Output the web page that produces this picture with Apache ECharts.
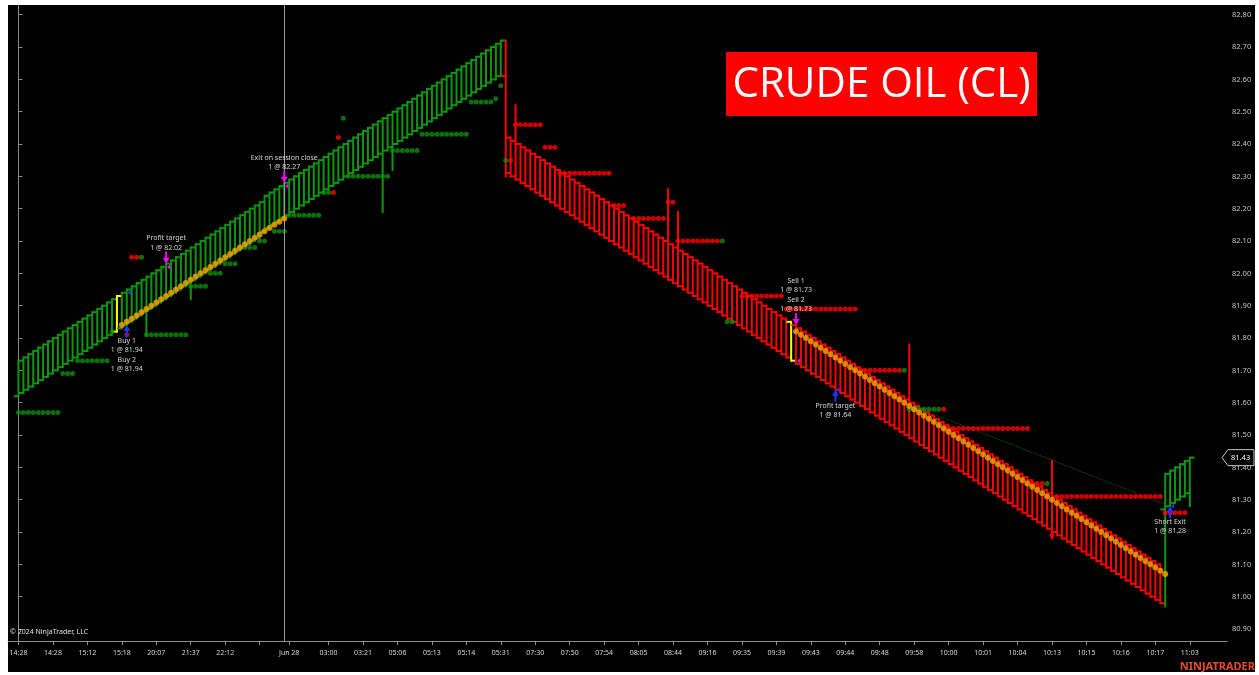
<!DOCTYPE html>
<html>
<head>
<meta charset="utf-8">
<title>CRUDE OIL (CL)</title>
<script src="https://cdn.jsdelivr.net/npm/echarts@6/dist/echarts.min.js"></script>
<style>
  html, body { margin: 0; padding: 0; background: #fff; }
  #frame { position: absolute; left: 8px; top: 5px; width: 1247px; height: 667px; background: #000; }
  #chart { position: absolute; left: 0; top: 0; width: 1259px; height: 675px; }
</style>
</head>
<body>
<div id="frame"></div>
<div id="chart"></div>
<script>
// bar bodies (open / close), one per bar index
const barOpen = [
  81.62, 81.63, 81.64, 81.65, 81.66, 81.67, 81.68, 81.69, 81.70, 81.71,
  81.72, 81.73, 81.74, 81.75, 81.76, 81.77, 81.78, 81.79, 81.80, 81.81,
  81.82, 81.83, 81.84, 81.85, 81.86, 81.87, 81.88, 81.89, 81.90, 81.91,
  81.92, 81.93, 81.94, 81.95, 81.96, 81.97, 81.98, 81.99, 82.00, 82.01,
  82.02, 82.03, 82.04, 82.05, 82.06, 82.07, 82.08, 82.09, 82.10, 82.11,
  82.13, 82.14, 82.15, 82.16, 82.17, 82.18, 82.19, 82.20, 82.21, 82.22,
  82.23, 82.24, 82.25, 82.26, 82.27, 82.28, 82.29, 82.30, 82.31, 82.32,
  82.33, 82.34, 82.35, 82.36, 82.37, 82.38, 82.39, 82.40, 82.41, 82.42,
  82.43, 82.44, 82.45, 82.46, 82.47, 82.48, 82.49, 82.50, 82.51, 82.52,
  82.53, 82.54, 82.55, 82.56, 82.57, 82.58, 82.59, 82.60, 82.61, 82.61,
  82.42, 82.41, 82.40, 82.39, 82.38, 82.37, 82.36, 82.35, 82.34, 82.33,
  82.32, 82.31, 82.30, 82.29, 82.28, 82.27, 82.26, 82.25, 82.24, 82.23,
  82.22, 82.21, 82.20, 82.19, 82.18, 82.17, 82.16, 82.15, 82.14, 82.13,
  82.12, 82.11, 82.10, 82.09, 82.08, 82.07, 82.06, 82.05, 82.04, 82.03,
  82.02, 82.01, 82.00, 81.99, 81.98, 81.97, 81.96, 81.95, 81.94, 81.93,
  81.92, 81.91, 81.90, 81.89, 81.88, 81.87, 81.86, 81.85, 81.84, 81.83,
  81.82, 81.81, 81.80, 81.79, 81.78, 81.77, 81.76, 81.75, 81.74, 81.73,
  81.72, 81.71, 81.70, 81.69, 81.68, 81.67, 81.66, 81.65, 81.64, 81.63,
  81.62, 81.61, 81.60, 81.59, 81.58, 81.57, 81.56, 81.55, 81.54, 81.53,
  81.52, 81.51, 81.50, 81.49, 81.48, 81.47, 81.46, 81.45, 81.44, 81.43,
  81.42, 81.41, 81.40, 81.39, 81.38, 81.37, 81.36, 81.35, 81.34, 81.33,
  81.32, 81.31, 81.30, 81.29, 81.28, 81.27, 81.26, 81.25, 81.24, 81.23,
  81.22, 81.21, 81.20, 81.19, 81.18, 81.17, 81.16, 81.15, 81.14, 81.13,
  81.12, 81.11, 81.10, 81.27, 81.28, 81.29, 81.30, 81.31, 81.32
];
const barClose = [
  81.73, 81.74, 81.75, 81.76, 81.77, 81.78, 81.79, 81.80, 81.81, 81.82,
  81.83, 81.84, 81.85, 81.86, 81.87, 81.88, 81.89, 81.90, 81.91, 81.92,
  81.93, 81.94, 81.95, 81.96, 81.97, 81.98, 81.99, 82.00, 82.01, 82.02,
  82.03, 82.04, 82.05, 82.06, 82.07, 82.08, 82.09, 82.10, 82.11, 82.12,
  82.13, 82.14, 82.15, 82.16, 82.17, 82.18, 82.19, 82.20, 82.21, 82.22,
  82.24, 82.25, 82.26, 82.27, 82.28, 82.29, 82.30, 82.31, 82.32, 82.33,
  82.34, 82.35, 82.36, 82.37, 82.38, 82.39, 82.40, 82.41, 82.42, 82.43,
  82.44, 82.45, 82.46, 82.47, 82.48, 82.49, 82.50, 82.51, 82.52, 82.53,
  82.54, 82.55, 82.56, 82.57, 82.58, 82.59, 82.60, 82.61, 82.62, 82.63,
  82.64, 82.65, 82.66, 82.67, 82.68, 82.69, 82.70, 82.71, 82.72, 82.31,
  82.30, 82.29, 82.28, 82.27, 82.26, 82.25, 82.24, 82.23, 82.22, 82.21,
  82.20, 82.19, 82.18, 82.17, 82.16, 82.15, 82.14, 82.13, 82.12, 82.11,
  82.10, 82.09, 82.08, 82.07, 82.06, 82.05, 82.04, 82.03, 82.02, 82.01,
  82.00, 81.99, 81.98, 81.97, 81.96, 81.95, 81.94, 81.93, 81.92, 81.91,
  81.90, 81.89, 81.88, 81.87, 81.86, 81.85, 81.84, 81.83, 81.82, 81.81,
  81.80, 81.79, 81.78, 81.77, 81.76, 81.75, 81.74, 81.73, 81.72, 81.71,
  81.70, 81.69, 81.68, 81.67, 81.66, 81.65, 81.64, 81.63, 81.62, 81.61,
  81.60, 81.59, 81.58, 81.57, 81.56, 81.55, 81.54, 81.53, 81.52, 81.51,
  81.50, 81.49, 81.48, 81.47, 81.46, 81.45, 81.44, 81.43, 81.42, 81.41,
  81.40, 81.39, 81.38, 81.37, 81.36, 81.35, 81.34, 81.33, 81.32, 81.31,
  81.30, 81.29, 81.28, 81.27, 81.26, 81.25, 81.24, 81.23, 81.22, 81.21,
  81.20, 81.19, 81.18, 81.17, 81.16, 81.15, 81.14, 81.13, 81.12, 81.11,
  81.10, 81.09, 81.08, 81.07, 81.06, 81.05, 81.04, 81.03, 81.02, 81.01,
  81.00, 80.99, 80.98, 81.38, 81.39, 81.40, 81.41, 81.42, 81.43
];
// bars whose shadow reaches past the body: [bar, low, high]
const barWicks = [
  [26, 81.81, 81.99], [35, 81.92, 82.08], [74, 82.19, 82.48], [76, 82.32, 82.50],
  [99, 82.30, 82.72], [101, 82.29, 82.52], [132, 81.98, 82.26], [134, 81.96, 82.19],
  [181, 81.49, 81.78], [210, 81.18, 81.42], [233, 80.97, 81.38], [238, 81.28, 81.43]
];
const highlightBars = [20, 157];

// orange trailing dots
const trailLongStart = 21;
const trailLong = [
  81.84, 81.85, 81.86, 81.87, 81.88, 81.89, 81.90, 81.91, 81.92, 81.93,
  81.94, 81.95, 81.96, 81.97, 81.98, 81.99, 82.00, 82.01, 82.02, 82.03,
  82.04, 82.05, 82.06, 82.07, 82.08, 82.09, 82.10, 82.11, 82.12, 82.13,
  82.14, 82.15, 82.16, 82.17
];
const trailShortStart = 158;
const trailShort = [
  81.82, 81.81, 81.80, 81.79, 81.78, 81.77, 81.76, 81.75, 81.74, 81.73,
  81.72, 81.71, 81.70, 81.69, 81.68, 81.67, 81.66, 81.65, 81.64, 81.63,
  81.62, 81.61, 81.60, 81.59, 81.58, 81.57, 81.56, 81.55, 81.54, 81.53,
  81.52, 81.51, 81.50, 81.49, 81.48, 81.47, 81.46, 81.45, 81.44, 81.43,
  81.42, 81.41, 81.40, 81.39, 81.38, 81.37, 81.36, 81.35, 81.34, 81.33,
  81.32, 81.31, 81.30, 81.29, 81.28, 81.27, 81.26, 81.25, 81.24, 81.23,
  81.22, 81.21, 81.20, 81.19, 81.18, 81.17, 81.16, 81.15, 81.14, 81.13,
  81.12, 81.11, 81.10, 81.09, 81.08, 81.07
];

// dotted levels: [first bar, last bar, price]
const greenDotRuns = [
  [0, 8, 81.57], [9, 11, 81.69], [12, 18, 81.73], [19, 19, 81.82], [25, 25, 82.05],
  [26, 34, 81.81], [35, 38, 81.96], [39, 41, 82.00], [42, 44, 82.03], [45, 48, 82.08],
  [49, 50, 82.10], [52, 54, 82.13], [55, 61, 82.18], [62, 63, 82.25], [66, 66, 82.48],
  [67, 75, 82.30], [76, 81, 82.38], [82, 91, 82.43], [92, 96, 82.53], [97, 97, 82.54],
  [98, 98, 82.58], [99, 99, 82.35], [143, 143, 82.10], [144, 145, 81.85], [180, 180, 81.70],
  [181, 187, 81.58], [209, 209, 81.35]
];
const redDotRuns = [
  [22, 22, 81.81], [23, 24, 82.05], [64, 64, 82.25], [65, 65, 82.42], [100, 100, 82.35],
  [101, 106, 82.46], [107, 109, 82.39], [110, 120, 82.31], [121, 123, 82.21], [125, 131, 82.17],
  [132, 133, 82.22], [134, 142, 82.10], [147, 155, 81.93], [156, 170, 81.89], [171, 179, 81.70],
  [188, 188, 81.58], [189, 205, 81.52], [206, 208, 81.35], [210, 210, 81.19], [211, 232, 81.31],
  [233, 237, 81.26]
];

// executions
const execBars = [22, 30, 54, 158, 166, 234];
const execPrices = [81.94, 82.02, 82.27, 81.73, 81.64, 81.28];
const execSide = ['buy', 'sell', 'sell', 'sell', 'buy', 'buy'];
const execText = [
  'Buy 1\n1 @ 81.94\nBuy 2\n1 @ 81.94',
  'Profit target\n1 @ 82.02',
  'Exit on session close\n1 @ 82.27',
  'Sell 1\n1 @ 81.73\nSell 2\n1 @ 81.73',
  'Profit target\n1 @ 81.64',
  'Short Exit\n1 @ 81.28'
];
// entry -> exit connectors: [bar, price, bar, price]
const tradeLines = [
  [22, 81.94, 30, 82.02], [22, 81.94, 54, 82.27],
  [158, 81.73, 166, 81.64], [158, 81.73, 234, 81.28]
];

// axes
const tickBars = [0, 7, 14, 21, 28, 35, 42, 49, 55, 63, 70, 77, 84, 91, 98, 105, 112, 119,
  126, 133, 140, 147, 154, 161, 168, 175, 182, 189, 196, 203, 210, 217, 224, 231, 238];
const tickLabels = ['14:28', '14:28', '15:12', '15:18', '20:07', '21:37', '22:12', '', 'Jun 28',
  '03:00', '03:21', '05:06', '05:13', '05:14', '05:31', '07:30', '07:50', '07:54', '08:05',
  '08:44', '09:16', '09:35', '09:39', '09:43', '09:44', '09:48', '09:58', '10:00', '10:01',
  '10:04', '10:13', '10:15', '10:16', '10:17', '11:03'];
const yTicks = [80.9, 81.0, 81.1, 81.2, 81.3, 81.4, 81.5, 81.6, 81.7, 81.8,
  81.9, 82.0, 82.1, 82.2, 82.3, 82.4, 82.5, 82.6, 82.7, 82.8];
const sessionBreakBar = 54;
const lastPrice = 81.43;

const GREEN = '#109610';
const RED = '#ff0000';
const TXT = '#d6d6d6';
const FONT = 'Noto Sans';

const wickMap = {};
barWicks.forEach(w => { wickMap[w[0]] = w; });
const barData = barOpen.map((o, i) => {
  const c = barClose[i];
  const w = wickMap[i];
  const low = w ? w[1] : Math.min(o, c);
  const high = w ? w[2] : Math.max(o, c);
  return [i, o, c, low, high];
});

function expandRuns(runs) {
  const pts = [];
  runs.forEach(r => { for (let b = r[0]; b <= r[1]; b++) pts.push([b, r[2]]); });
  return pts;
}

const trailData = trailLong.map((v, k) => [trailLongStart + k, v])
  .concat(trailShort.map((v, k) => [trailShortStart + k, v]));

function renderBar(params, api) {
  const i = api.value(0);
  const o = api.value(1), c = api.value(2), l = api.value(3), h = api.value(4);
  const top = api.coord([i, h]);
  const bot = api.coord([i, l]);
  const yo = api.coord([i, o])[1];
  const yc = api.coord([i, c])[1];
  const x = top[0];
  const tick = api.size([1, 0])[0] * 0.95;
  let color = c >= o ? GREEN : RED;
  if (highlightBars.indexOf(i) >= 0) color = '#ffff00';
  const st = { stroke: color, lineWidth: 2 };
  return {
    type: 'group',
    children: [
      { type: 'line', shape: { x1: x, y1: top[1] - 1, x2: x, y2: bot[1] + 1 }, style: st },
      { type: 'line', shape: { x1: x - tick, y1: yo, x2: x, y2: yo }, style: st },
      { type: 'line', shape: { x1: x, y1: yc, x2: x + tick, y2: yc }, style: st }
    ]
  };
}

function renderExec(params, api) {
  const k = params.dataIndex;
  const b = execBars[k];
  const bar = barData[b];
  const isBuy = execSide[k] === 'buy';
  const tip = api.coord([b, isBuy ? bar[3] : bar[4]]);
  const ex = api.coord([b, execPrices[k]]);
  const color = isBuy ? '#2233ff' : '#ff00ff';
  const d = isBuy ? 1 : -1;
  const x = tip[0], y = tip[1];
  return {
    type: 'group',
    children: [
      { type: 'polygon', shape: { points: [[x, y], [x - 3.5, y + d * 6], [x + 3.5, y + d * 6]] }, style: { fill: color } },
      { type: 'rect', shape: { x: x - 1, y: Math.min(y + d * 5, y + d * 12), width: 2, height: 7 }, style: { fill: color } },
      { type: 'polygon', shape: { points: [[ex[0] + 1, ex[1]], [ex[0] + 4, ex[1] - 2.5], [ex[0] + 4, ex[1] + 2.5]] }, style: { fill: color } },
      {
        type: 'text', x: x, y: y + d * 11,
        style: {
          text: execText[k], fill: TXT, fontSize: 7, fontFamily: FONT, lineHeight: 9.5,
          textAlign: 'center', textVerticalAlign: isBuy ? 'top' : 'bottom'
        }
      }
    ]
  };
}

const chart = echarts.init(document.getElementById('chart'));

chart.setOption({
  animation: false,
  backgroundColor: 'transparent',
  grid: { left: 8, right: 32, top: 5, bottom: 34 },
  xAxis: {
    type: 'value',
    min: -2.13,
    max: 245.56,
    splitLine: { show: false },
    axisLine: { show: true, onZero: false, lineStyle: { color: '#8c8c8c', width: 1 } },
    axisTick: { show: true, customValues: tickBars, length: 4, lineStyle: { color: '#8c8c8c' } },
    axisLabel: {
      customValues: tickBars,
      color: TXT, fontSize: 7, fontFamily: FONT, margin: 8,
      formatter: v => tickLabels[tickBars.indexOf(Math.round(v))] || ''
    }
  },
  yAxis: {
    type: 'value',
    position: 'right',
    min: 80.863,
    max: 82.83,
    splitLine: { show: false },
    axisLine: { show: true, lineStyle: { color: '#8c8c8c', width: 1 } },
    axisTick: { show: true, customValues: yTicks, length: 4, lineStyle: { color: '#8c8c8c' } },
    axisLabel: {
      customValues: yTicks,
      color: '#c4c4c4', fontSize: 7.5, fontFamily: FONT, margin: 5,
      formatter: v => v.toFixed(2)
    }
  },
  series: [
    {
      type: 'custom',
      name: 'bars',
      renderItem: renderBar,
      data: barData,
      encode: { x: 0, y: [3, 4] },
      clip: true,
      z: 2,
      markLine: {
        silent: true,
        symbol: 'none',
        label: { show: false },
        lineStyle: { color: '#9a9a9a', width: 1, type: 'solid' },
        data: [{ xAxis: sessionBreakBar }]
      }
    },
    {
      type: 'lines',
      coordinateSystem: 'cartesian2d',
      z: 3,
      lineStyle: { color: '#0d6a0d', width: 1, type: 'dotted', opacity: 1 },
      data: tradeLines.map(t => ({ coords: [[t[0], t[1]], [t[2], t[3]]] }))
    },
    {
      type: 'scatter',
      name: 'green dots',
      symbolSize: 5,
      itemStyle: { color: '#0d8d0d' },
      z: 4,
      data: expandRuns(greenDotRuns)
    },
    {
      type: 'scatter',
      name: 'red dots',
      symbolSize: 5,
      itemStyle: { color: RED },
      z: 4,
      data: expandRuns(redDotRuns)
    },
    {
      type: 'scatter',
      name: 'trail',
      symbolSize: 6,
      itemStyle: { color: '#ffa500' },
      z: 5,
      data: trailData
    },
    {
      type: 'custom',
      name: 'executions',
      renderItem: renderExec,
      data: execBars.map((b, k) => [b, execPrices[k]]),
      z: 6
    }
  ]
});

// overlay texts and the last price marker on the price axis
const py = chart.convertToPixel({ yAxisIndex: 0 }, lastPrice);
chart.setOption({
  graphic: [
    {
      type: 'rect', id: 'titleBox', z: 10,
      shape: { x: 726, y: 52, width: 311, height: 64 },
      style: { fill: '#ff0000' }
    },
    {
      type: 'text', id: 'titleText', z: 11, x: 881.5, y: 85,
      style: { text: 'CRUDE OIL (CL)', fill: '#ffffff', fontSize: 42, fontFamily: 'Open Sans', textAlign: 'center', textVerticalAlign: 'middle' }
    },
    {
      type: 'text', id: 'copy', x: 10, y: 632, z: 10,
      style: { text: '© 2024 NinjaTrader, LLC', fill: '#e0e0e0', fontSize: 7, fontFamily: FONT, textVerticalAlign: 'middle' }
    },
    {
      type: 'text', id: 'logo', x: 1255, y: 667, z: 10,
      style: { text: 'NINJATRADER', fill: '#e84c2b', fontSize: 11, fontWeight: 'bold', fontFamily: FONT, textAlign: 'right', textVerticalAlign: 'middle' }
    },
    {
      type: 'polygon', id: 'lastBox', z: 10,
      shape: { points: [[1222, py], [1228, py - 8], [1254, py - 8], [1254, py + 8], [1228, py + 8]] },
      style: { fill: '#000000', stroke: '#c8c8c8', lineWidth: 1 }
    },
    {
      type: 'text', id: 'lastText', z: 11, x: 1231, y: py,
      style: { text: lastPrice.toFixed(2), fill: '#ffffff', fontSize: 7.5, fontFamily: FONT, textVerticalAlign: 'middle' }
    }
  ]
});
</script>
</body>
</html>
